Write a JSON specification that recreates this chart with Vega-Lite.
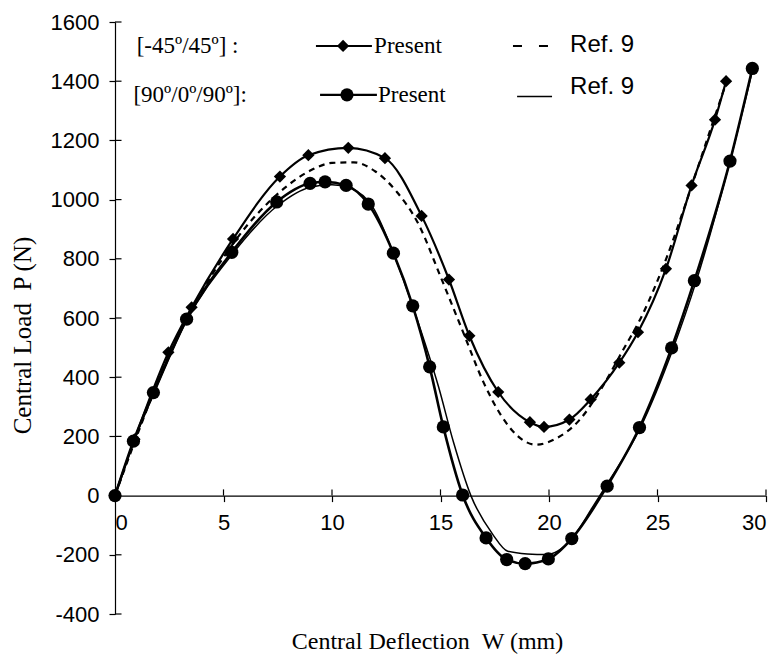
{
  "$schema": "https://vega.github.io/schema/vega-lite/v6.json",
  "width": 651,
  "height": 592,
  "autosize": {"type": "none"},
  "padding": {"left": 115, "top": 22, "right": 13, "bottom": 48},
  "background": "white",
  "config": {
    "view": {"stroke": null},
    "axis": {"grid": false, "domainColor": "black", "tickColor": "black", "labelColor": "black", "titleColor": "black", "tickSize": 6, "domainWidth": 1.2, "tickWidth": 1.2}
  },
  "datasets": {
    "present45": [
      {"x": 0, "y": 0}, {"x": 0.9, "y": 190}, {"x": 2.46, "y": 484}, {"x": 3.53, "y": 636}, {"x": 5.44, "y": 867},
      {"x": 7.6, "y": 1078}, {"x": 8.91, "y": 1150}, {"x": 10.75, "y": 1175}, {"x": 12.44, "y": 1140}, {"x": 14.13, "y": 945},
      {"x": 15.39, "y": 730}, {"x": 16.33, "y": 540}, {"x": 17.66, "y": 350}, {"x": 19.12, "y": 248}, {"x": 19.77, "y": 232},
      {"x": 20.94, "y": 257}, {"x": 21.92, "y": 325}, {"x": 23.24, "y": 449}, {"x": 24.1, "y": 552}, {"x": 25.39, "y": 766},
      {"x": 26.57, "y": 1048}, {"x": 27.65, "y": 1270}, {"x": 28.16, "y": 1400}
    ],
    "ref45": [
      {"x": 0, "y": 0}, {"x": 1, "y": 200}, {"x": 2, "y": 390}, {"x": 3, "y": 555}, {"x": 4, "y": 690}, {"x": 5, "y": 805},
      {"x": 6, "y": 905}, {"x": 7, "y": 985}, {"x": 8, "y": 1050}, {"x": 9, "y": 1098}, {"x": 10, "y": 1124}, {"x": 11, "y": 1126},
      {"x": 12, "y": 1095}, {"x": 13, "y": 1025}, {"x": 14, "y": 915}, {"x": 15, "y": 740}, {"x": 16, "y": 560}, {"x": 17, "y": 380},
      {"x": 17.8, "y": 270}, {"x": 18.5, "y": 205}, {"x": 19.4, "y": 172}, {"x": 20.3, "y": 192}, {"x": 21.4, "y": 255},
      {"x": 22.4, "y": 360}, {"x": 23.4, "y": 490}, {"x": 24.3, "y": 610}, {"x": 25.4, "y": 800}, {"x": 26.5, "y": 1030},
      {"x": 27.5, "y": 1250}, {"x": 28.1, "y": 1380}
    ],
    "present90": [
      {"x": 0, "y": 0}, {"x": 0.85, "y": 184}, {"x": 1.77, "y": 348}, {"x": 3.3, "y": 596}, {"x": 5.38, "y": 822},
      {"x": 7.45, "y": 992}, {"x": 8.99, "y": 1055}, {"x": 9.68, "y": 1060}, {"x": 10.65, "y": 1048}, {"x": 11.67, "y": 985},
      {"x": 12.83, "y": 819}, {"x": 13.72, "y": 641}, {"x": 14.5, "y": 435}, {"x": 15.13, "y": 232}, {"x": 16.02, "y": 2},
      {"x": 17.1, "y": -143}, {"x": 18.05, "y": -216}, {"x": 18.9, "y": -230}, {"x": 19.97, "y": -214}, {"x": 21.05, "y": -145},
      {"x": 22.68, "y": 32}, {"x": 24.17, "y": 230}, {"x": 25.65, "y": 499}, {"x": 26.7, "y": 726}, {"x": 28.34, "y": 1130},
      {"x": 29.37, "y": 1443}
    ],
    "ref90": [
      {"x": 0, "y": 0}, {"x": 0.85, "y": 180}, {"x": 1.8, "y": 345}, {"x": 3.3, "y": 590}, {"x": 5.4, "y": 815},
      {"x": 7.5, "y": 980}, {"x": 9, "y": 1042}, {"x": 10, "y": 1050}, {"x": 10.8, "y": 1040}, {"x": 11.9, "y": 972},
      {"x": 12.9, "y": 805}, {"x": 13.9, "y": 600}, {"x": 14.9, "y": 370}, {"x": 15.6, "y": 180}, {"x": 16.4, "y": 0},
      {"x": 17.4, "y": -130}, {"x": 18.1, "y": -188}, {"x": 19, "y": -197}, {"x": 19.9, "y": -199}, {"x": 21, "y": -150},
      {"x": 22, "y": -40}, {"x": 22.6, "y": 30}, {"x": 24.2, "y": 228}, {"x": 25.7, "y": 493}, {"x": 26.8, "y": 728},
      {"x": 28.3, "y": 1118}, {"x": 29.4, "y": 1443}
    ],
    "yTicksIn": [
      {"x": 0, "x2": 0.3, "y": -400}, {"x": 0, "x2": 0.3, "y": -200}, {"x": 0, "x2": 0.3, "y": 200},
      {"x": 0, "x2": 0.3, "y": 400}, {"x": 0, "x2": 0.3, "y": 600}, {"x": 0, "x2": 0.3, "y": 800},
      {"x": 0, "x2": 0.3, "y": 1000}, {"x": 0, "x2": 0.3, "y": 1200}, {"x": 0, "x2": 0.3, "y": 1400},
      {"x": 0, "x2": 0.3, "y": 1600}
    ],
    "xTicksIn": [
      {"x": 5, "y": 0, "y2": 21}, {"x": 10, "y": 0, "y2": 21}, {"x": 15, "y": 0, "y2": 21},
      {"x": 20, "y": 0, "y2": 21}, {"x": 25, "y": 0, "y2": 21}, {"x": 30, "y": 0, "y2": 21}
    ],
    "legSolid": [
      {"g": "a", "x": 9.26, "y": 1519}, {"g": "a", "x": 11.84, "y": 1519},
      {"g": "b", "x": 9.45, "y": 1354}, {"g": "b", "x": 12.07, "y": 1354}
    ],
    "legDash": [{"x": 18.34, "y": 1519}, {"x": 20.14, "y": 1519}],
    "legThin": [{"x": 18.53, "y": 1348}, {"x": 20.14, "y": 1348}],
    "legDiamond": [{"x": 10.51, "y": 1519}],
    "legCircle": [{"x": 10.69, "y": 1354}],
    "legSerif": [
      {"x": 1.0, "y": 1519, "label": "[-45º/45º] :"},
      {"x": 0.85, "y": 1354, "label": "[90º/0º/90º]:"},
      {"x": 11.94, "y": 1519, "label": "Present"},
      {"x": 12.12, "y": 1354, "label": "Present"}
    ],
    "legSans": [
      {"x": 20.97, "y": 1523, "label": "Ref. 9"},
      {"x": 20.97, "y": 1381, "label": "Ref. 9"}
    ]
  },
  "encoding": {
    "x": {
      "field": "x", "type": "quantitative",
      "scale": {"domain": [0, 30], "nice": false, "zero": false},
      "axis": {
        "values": [0, 5, 10, 15, 20, 25, 30], "offset": -118.4, "labelExpr": "'' + datum.value",
        "labelFont": "Liberation Sans", "labelFontSize": 22, "labelPadding": 11,
        "title": "Central Deflection\u00a0\u00a0W (mm)", "titleFont": "Liberation Serif", "titleFontSize": 24, "titleFontWeight": "normal",
        "titleX": 312, "titleY": 153, "titleBaseline": "alphabetic"
      }
    },
    "y": {
      "field": "y", "type": "quantitative",
      "scale": {"domain": [-400, 1600], "nice": false, "zero": false},
      "axis": {
        "values": [-400, -200, 0, 200, 400, 600, 800, 1000, 1200, 1400, 1600], "labelExpr": "'' + datum.value",
        "labelFont": "Liberation Sans", "labelFontSize": 22, "labelPadding": 10,
        "title": "Central Load\u00a0\u00a0P (N)", "titleFont": "Liberation Serif", "titleFontSize": 25, "titleFontWeight": "normal",
        "titleX": -93, "titleY": 313, "titleBaseline": "middle", "titleAngle": -90
      }
    }
  },
  "layer": [
    {"data": {"name": "yTicksIn"}, "mark": {"type": "rule", "color": "black", "strokeWidth": 1.2}, "encoding": {"x2": {"field": "x2"}}},
    {"data": {"name": "xTicksIn"}, "mark": {"type": "rule", "color": "black", "strokeWidth": 1.2}, "encoding": {"y2": {"field": "y2"}}},
    {"data": {"name": "ref90"}, "mark": {"type": "line", "color": "black", "strokeWidth": 1.5, "interpolate": "monotone"}},
    {"data": {"name": "ref45"}, "mark": {"type": "line", "color": "black", "strokeWidth": 2.2, "strokeDash": [6, 5], "interpolate": "monotone"}},
    {"data": {"name": "present45"}, "mark": {"type": "line", "color": "black", "strokeWidth": 2.2, "interpolate": "monotone"}},
    {"data": {"name": "present45"}, "mark": {"type": "point", "shape": "diamond", "filled": true, "color": "black", "opacity": 1, "size": 150}},
    {"data": {"name": "present90"}, "mark": {"type": "line", "color": "black", "strokeWidth": 2.6, "interpolate": "monotone"}},
    {"data": {"name": "present90"}, "mark": {"type": "point", "shape": "circle", "filled": true, "color": "black", "opacity": 1, "size": 175}},
    {"data": {"name": "legSolid"}, "mark": {"type": "line", "color": "black", "strokeWidth": 2.2}, "encoding": {"detail": {"field": "g"}}},
    {"data": {"name": "legDash"}, "mark": {"type": "line", "color": "black", "strokeWidth": 2.2, "strokeDash": [9, 17]}, "encoding": {}},
    {"data": {"name": "legThin"}, "mark": {"type": "line", "color": "black", "strokeWidth": 1.5}, "encoding": {}},
    {"data": {"name": "legDiamond"}, "mark": {"type": "point", "shape": "diamond", "filled": true, "color": "black", "opacity": 1, "size": 150}},
    {"data": {"name": "legCircle"}, "mark": {"type": "point", "shape": "circle", "filled": true, "color": "black", "opacity": 1, "size": 175}},
    {"data": {"name": "legSerif"}, "mark": {"type": "text", "font": "Liberation Serif", "fontSize": 23, "align": "left", "baseline": "middle", "color": "black"}, "encoding": {"text": {"field": "label"}}},
    {"data": {"name": "legSans"}, "mark": {"type": "text", "font": "Liberation Sans", "fontSize": 24, "align": "left", "baseline": "middle", "color": "black"}, "encoding": {"text": {"field": "label"}}}
  ]
}
